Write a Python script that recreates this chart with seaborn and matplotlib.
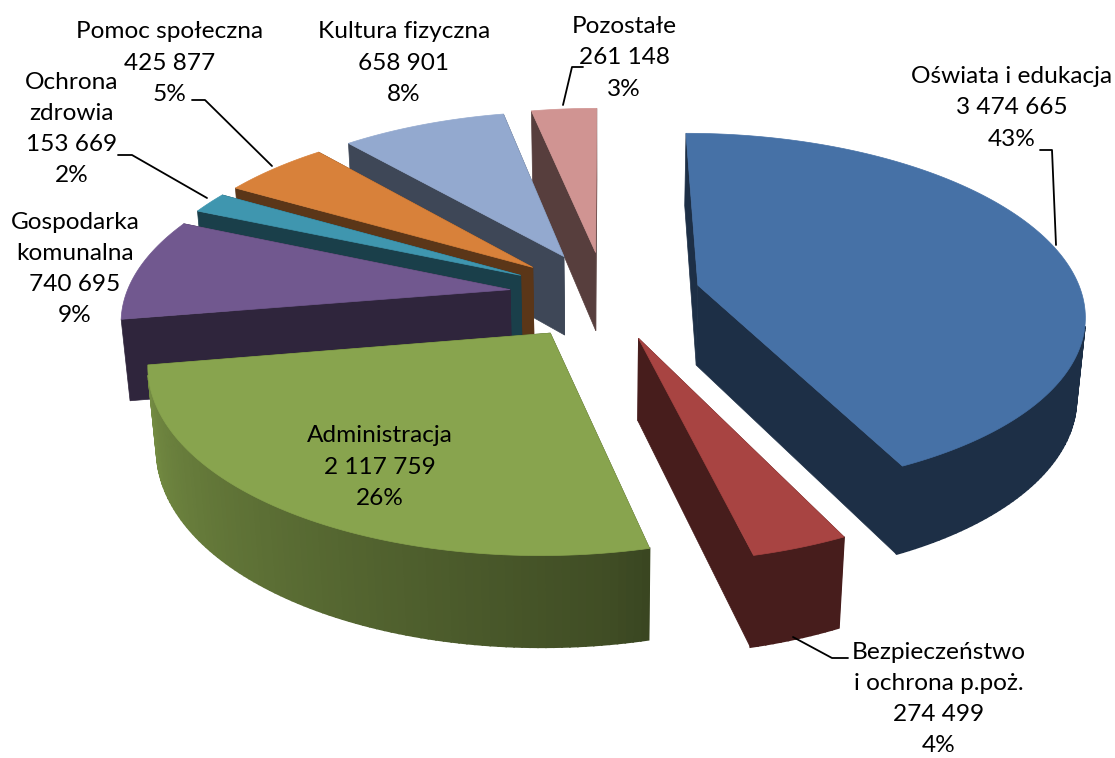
import numpy as np
import seaborn as sns
import matplotlib
matplotlib.use('Agg')
import matplotlib.pyplot as plt

sns.set_theme(style="white")
plt.rcParams['font.family'] = ['Lato', 'DejaVu Sans']

#chart data, clockwise from 12 o'clock
categories = ['Oświata i edukacja', 'Bezpieczeństwo\ni ochrona p.poż.', 'Administracja',
              'Gospodarka\nkomunalna', 'Ochrona\nzdrowia', 'Pomoc społeczna',
              'Kultura fizyczna', 'Pozostałe']
values = [3474665, 274499, 2117759, 740695, 153669, 425877, 658901, 261148]
percents = [43, 4, 26, 9, 2, 5, 8, 3]

colors = sns.color_palette(['#4671A6', '#A84442', '#88A44E', '#71588F',
                            '#3F96AF', '#D8813A', '#93A9CF', '#D09492'])

#label centres in pixels and leader lines
label_pos = [(1012, 108), (939, 699), (380, 467), (75, 269),
             (72, 129), (170, 63), (404, 63), (624, 58)]
leaders = [[(1040, 150), (1052, 150), (1056, 245)],
           [(793, 637), (832, 658), (848, 658)],
           None,
           None,
           [(118, 155), (132, 155), (207, 198)],
           [(192, 100), (205, 100), (272, 166)],
           None,
           [(583, 67), (572, 67), (563, 105)]]

#fake 3d camera settings
elev = np.radians(27.45)
cam_dist = 6.0
focal = 2305
center = (605, 295)
explode = 0.25
thick = 0.24
radial_shade = 0.42


def project(x, y, z):
    #pinhole view, y goes to the back of the pie and z up
    depth = cam_dist + y * np.cos(elev) - z * np.sin(elev)
    up = y * np.sin(elev) + z * np.cos(elev)
    return center[0] + focal * x / depth, center[1] - focal * up / depth


def outer_shade(angle):
    #side of the pie gets lighter going round to the left
    return np.interp(angle, [0, 166, 172, 262, 275, 360], [0.42, 0.42, 0.47, 0.87, 0.42, 0.42])


def dim(color, k):
    return tuple(np.array(color) * k)


fig = plt.figure(figsize=(11.15, 7.58), dpi=100)
ax = fig.add_axes([0, 0, 1, 1])
ax.set_xlim(0, 1115)
ax.set_ylim(758, 0)
ax.axis('off')

shares = np.array(values) / sum(values) * 360
ends = np.cumsum(shares)
starts = ends - shares
mids = np.radians((starts + ends) / 2)

#back slices first so the front ones cover them
for i in np.argsort(-np.cos(mids)):
    ox = explode * np.sin(mids[i])
    oy = explode * np.cos(mids[i])
    ang = np.radians(np.linspace(starts[i], ends[i], max(int(shares[i]), 2) + 1))
    ex = ox + np.sin(ang)
    ey = oy + np.cos(ang)

    #radial walls
    for a in (ang[0], ang[-1]):
        wx = np.array([ox, ox + np.sin(a), ox + np.sin(a), ox])
        wy = np.array([oy, oy + np.cos(a), oy + np.cos(a), oy])
        wz = np.array([0, 0, -thick, -thick])
        px, py = project(wx, wy, wz)
        ax.fill(px, py, color=dim(colors[i], radial_shade), lw=0.5)

    #outer wall, one strip per step so the shading can change
    for j in range(len(ang) - 1):
        a = (ang[j] + ang[j + 1]) / 2
        #skip strips that face away from the camera
        cam_y = -cam_dist * np.cos(elev)
        if -ex[j] * np.sin(a) + (cam_y - ey[j]) * np.cos(a) <= 0:
            continue
        wx = np.array([ex[j], ex[j + 1], ex[j + 1], ex[j]])
        wy = np.array([ey[j], ey[j + 1], ey[j + 1], ey[j]])
        wz = np.array([0, 0, -thick, -thick])
        px, py = project(wx, wy, wz)
        ax.fill(px, py, color=dim(colors[i], outer_shade(np.degrees(a))), lw=1.2)

    #top face
    px, py = project(np.r_[ox, ex], np.r_[oy, ey], np.zeros(len(ex) + 1))
    ax.fill(px, py, color=colors[i], lw=0.5)

for i, name in enumerate(categories):
    amount = f"{values[i]:,}".replace(',', ' ')
    ax.text(label_pos[i][0], label_pos[i][1], f"{name}\n{amount}\n{percents[i]}%",
            ha='center', va='center', fontsize=17.6, color='black', linespacing=1.6)
    if leaders[i] is not None:
        lx, ly = zip(*leaders[i])
        ax.plot(lx, ly, color='black', lw=1.3)

fig.savefig('out.png', dpi=100)
